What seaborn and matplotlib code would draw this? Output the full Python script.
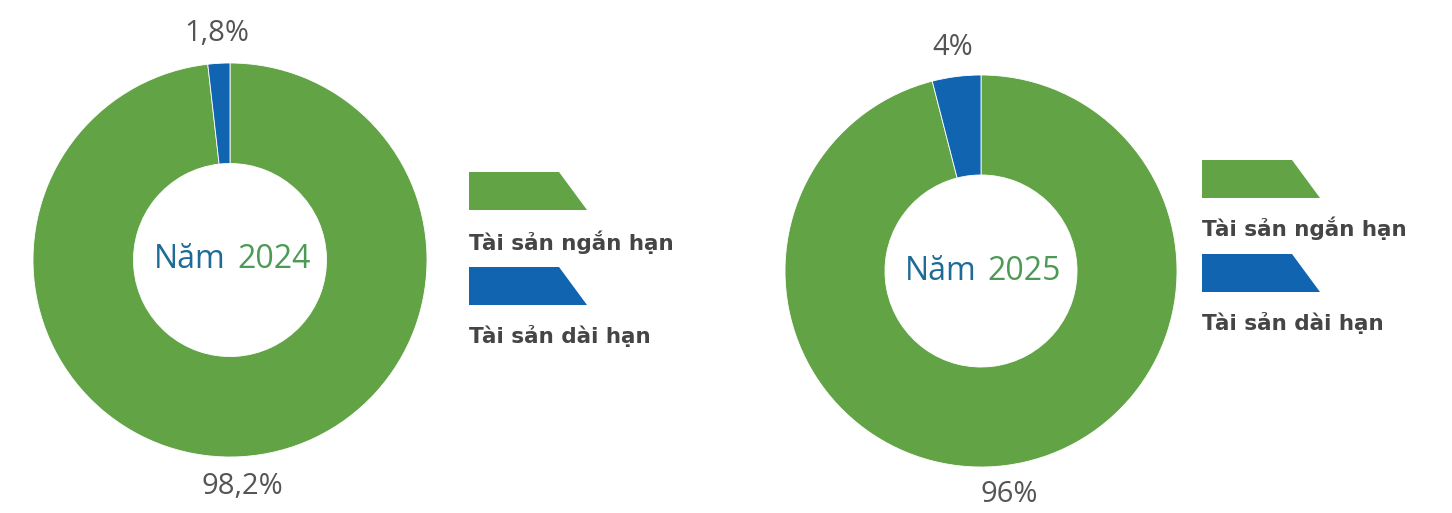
import matplotlib
matplotlib.use("Agg")
import matplotlib.pyplot as plt
from matplotlib.patches import Polygon
import seaborn as sns

sns.set_theme(style="white")
plt.rcParams['font.family'] = ['Open Sans', 'DejaVu Sans']

# ---- data ----
years = ["Năm 2024", "Năm 2025"]
categories = ["Tài sản ngắn hạn", "Tài sản dài hạn"]
short_term = [98.2, 96]
long_term = [1.8, 4]
pct_labels = [["98,2%", "1,8%"], ["96%", "4%"]]

colors = ["#62a346", "#1164b0"]
text_grey = "#555555"

W, H = 1452, 513
fig = plt.figure(figsize=(W / 100, H / 100), dpi=100)

# donut placements (pixel centre x, centre y, radius)
placements = [(230, 260, 197), (981, 271, 196)]
legend_pos = [(469, 172, 242, 267, 336), (1202, 160, 228, 254, 323)]

overlay = fig.add_axes([0, 0, 1, 1])
overlay.set_xlim(0, W)
overlay.set_ylim(H, 0)
overlay.axis("off")

for i, (cx, cy, r) in enumerate(placements):
    ax = fig.add_axes([(cx - r) / W, (H - cy - r) / H, 2 * r / W, 2 * r / H])
    vals = [short_term[i], long_term[i]]
    wedges, texts = ax.pie(
        vals, colors=colors, startangle=90, counterclock=False,
        labels=pct_labels[i], labeldistance=1.15,
        wedgeprops=dict(width=0.51, edgecolor="white", linewidth=0.6),
        textprops=dict(fontsize=21, color=text_grey, fontweight="normal"),
    )
    for t in texts:
        t.set_ha("center")
        t.set_va("center")
        t.set_clip_on(False)
    ax.set_xlim(-1, 1)
    ax.set_ylim(-1, 1)
    ax.set_aspect("equal")
    ax.axis("off")

    word, yr = years[i].split(" ")
    ax.text(-0.02, 0, word, ha="right", va="center", fontsize=23, color="#1d6b96")
    ax.text(0.035, 0, yr, ha="left", va="center", fontsize=23, color="#4c9a55")

    # legend
    lx, gy, gty, by, bty = legend_pos[i]
    for j, (ty, tty) in enumerate([(gy, gty), (by, bty)]):
        poly = Polygon([[lx, ty], [lx + 90, ty], [lx + 118, ty + 38], [lx, ty + 38]],
                       closed=True, facecolor=colors[j], edgecolor="none")
        overlay.add_patch(poly)
        overlay.text(lx, tty, categories[j], ha="left", va="center", fontsize=15.5,
                     fontweight="bold", color="#454545", family="DejaVu Sans")

fig.savefig("out.png", dpi=100, facecolor="white")
